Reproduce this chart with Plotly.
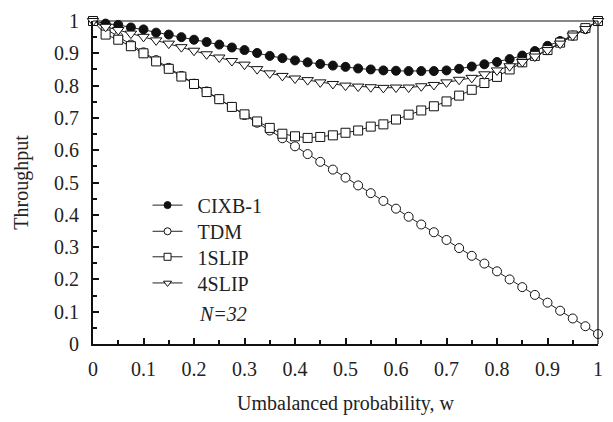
import plotly.graph_objects as go

w = [i / 40 for i in range(41)]

cixb = [1.000, 0.992, 0.988, 0.980, 0.974, 0.964, 0.958, 0.950, 0.942, 0.935,
        0.927, 0.918, 0.910, 0.901, 0.892, 0.885, 0.878, 0.872, 0.867, 0.862,
        0.858, 0.853, 0.850, 0.847, 0.846, 0.845, 0.845, 0.845, 0.847, 0.852,
        0.859, 0.866, 0.873, 0.882, 0.893, 0.907, 0.923, 0.938, 0.955, 0.975, 1.000]

tdm = [1.000, 0.976, 0.952, 0.927, 0.903, 0.879, 0.855, 0.830, 0.806, 0.782,
       0.758, 0.734, 0.709, 0.685, 0.661, 0.637, 0.612, 0.588, 0.564, 0.540,
       0.515, 0.491, 0.467, 0.443, 0.419, 0.394, 0.370, 0.346, 0.322, 0.297,
       0.273, 0.249, 0.225, 0.200, 0.176, 0.152, 0.128, 0.103, 0.079, 0.055, 0.031]

slip1 = [1.000, 0.958, 0.942, 0.922, 0.900, 0.875, 0.852, 0.828, 0.805, 0.780,
         0.758, 0.734, 0.711, 0.689, 0.669, 0.651, 0.643, 0.638, 0.641, 0.646,
         0.654, 0.661, 0.673, 0.680, 0.695, 0.710, 0.723, 0.736, 0.751, 0.769,
         0.787, 0.808, 0.827, 0.850, 0.872, 0.892, 0.910, 0.933, 0.955, 0.978, 1.000]

slip4 = [1.000, 0.982, 0.972, 0.961, 0.951, 0.940, 0.930, 0.919, 0.908, 0.897,
         0.887, 0.876, 0.865, 0.851, 0.838, 0.830, 0.822, 0.817, 0.810, 0.805,
         0.800, 0.797, 0.795, 0.793, 0.794, 0.794, 0.798, 0.802, 0.810, 0.818,
         0.824, 0.835, 0.847, 0.860, 0.873, 0.890, 0.910, 0.930, 0.955, 0.975, 1.000]

names = ["CIXB-1", "TDM", "1SLIP", "4SLIP"]
series = [cixb, tdm, slip1, slip4]
symbols = ["circle", "circle-open", "square-open", "triangle-down-open"]
sizes = [9, 9, 9, 10]
legend_y = [0.430, 0.349, 0.270, 0.189]
tick_labels = ["0", "0.1", "0.2", "0.3", "0.4", "0.5", "0.6", "0.7", "0.8", "0.9", "1"]
tick_vals = [i / 10 for i in range(11)]
minor_vals = [0.05 + i / 10 for i in range(10)]

FONT = "Liberation Serif, Times New Roman, serif"
INK = "#111111"
fig = go.Figure()

for name, ys, sym, sz in zip(names, series, symbols, sizes):
    filled = sym == "circle"
    fig.add_trace(go.Scatter(
        x=w, y=ys, mode="lines+markers", showlegend=False, cliponaxis=False,
        line=dict(color="#222222", width=1),
        marker=dict(symbol="circle" if filled else sym.replace("-open", ""),
                    size=sz, color=INK if filled else "white",
                    line=dict(color=INK, width=1)),
    ))

legend_layouts = {}
for i, (name, sym, ly) in enumerate(zip(names, symbols, legend_y)):
    filled = sym == "circle"
    key = "legend" if i == 0 else f"legend{i + 1}"
    fig.add_trace(go.Scatter(
        x=[None], y=[None], mode="lines+markers", name="\u00a0\u00a0" + name,
        legend=key,
        line=dict(color="#222222", width=1),
        marker=dict(symbol="circle" if filled else sym.replace("-open", ""),
                    size=7, color=INK if filled else "white",
                    line=dict(color=INK, width=1)),
    ))
    legend_layouts[key] = dict(x=0.108, y=ly, xanchor="left", yanchor="middle",
                               bgcolor="rgba(0,0,0,0)", font=dict(family=FONT, size=20),
                               itemwidth=30)

axis_common = dict(
    range=[0, 1], tickvals=tick_vals, ticktext=tick_labels,
    ticks="inside", ticklen=6, tickwidth=2, tickcolor=INK,
    minor=dict(tickvals=minor_vals, ticks="inside", ticklen=4, tickwidth=2, tickcolor=INK),
    showgrid=False, zeroline=False, showline=True, linecolor=INK, linewidth=2,
    tickfont=dict(family=FONT, size=20), ticklabeloverflow="allow",
)

fig.update_layout(
    width=613, height=422,
    margin=dict(l=93, r=15, t=10, b=78),
    paper_bgcolor="white", plot_bgcolor="white",
    font=dict(family=FONT, size=20, color="#222222"),
    showlegend=True,
    xaxis=dict(**axis_common, ticklabelstandoff=6,
               title=dict(text="Umbalanced probability, w", font=dict(family=FONT, size=20), standoff=17)),
    yaxis=dict(**axis_common, ticklabelstandoff=8,
               title=dict(text="Throughput", font=dict(family=FONT, size=20), standoff=20)),
    **legend_layouts,
)

fig.add_shape(type="line", xref="paper", yref="paper", x0=0, x1=1, y0=1, y1=1,
              line=dict(color=INK, width=1.2))
fig.add_shape(type="line", xref="paper", yref="paper", x0=1, x1=1, y0=0, y1=1,
              line=dict(color=INK, width=1.2))

fig.add_annotation(x=0.206, y=0.093, xref="paper", yref="paper", xanchor="left", yanchor="middle",
                   text="<i>N=32</i>", showarrow=False, font=dict(family=FONT, size=20))

fig.write_html("out.html")
